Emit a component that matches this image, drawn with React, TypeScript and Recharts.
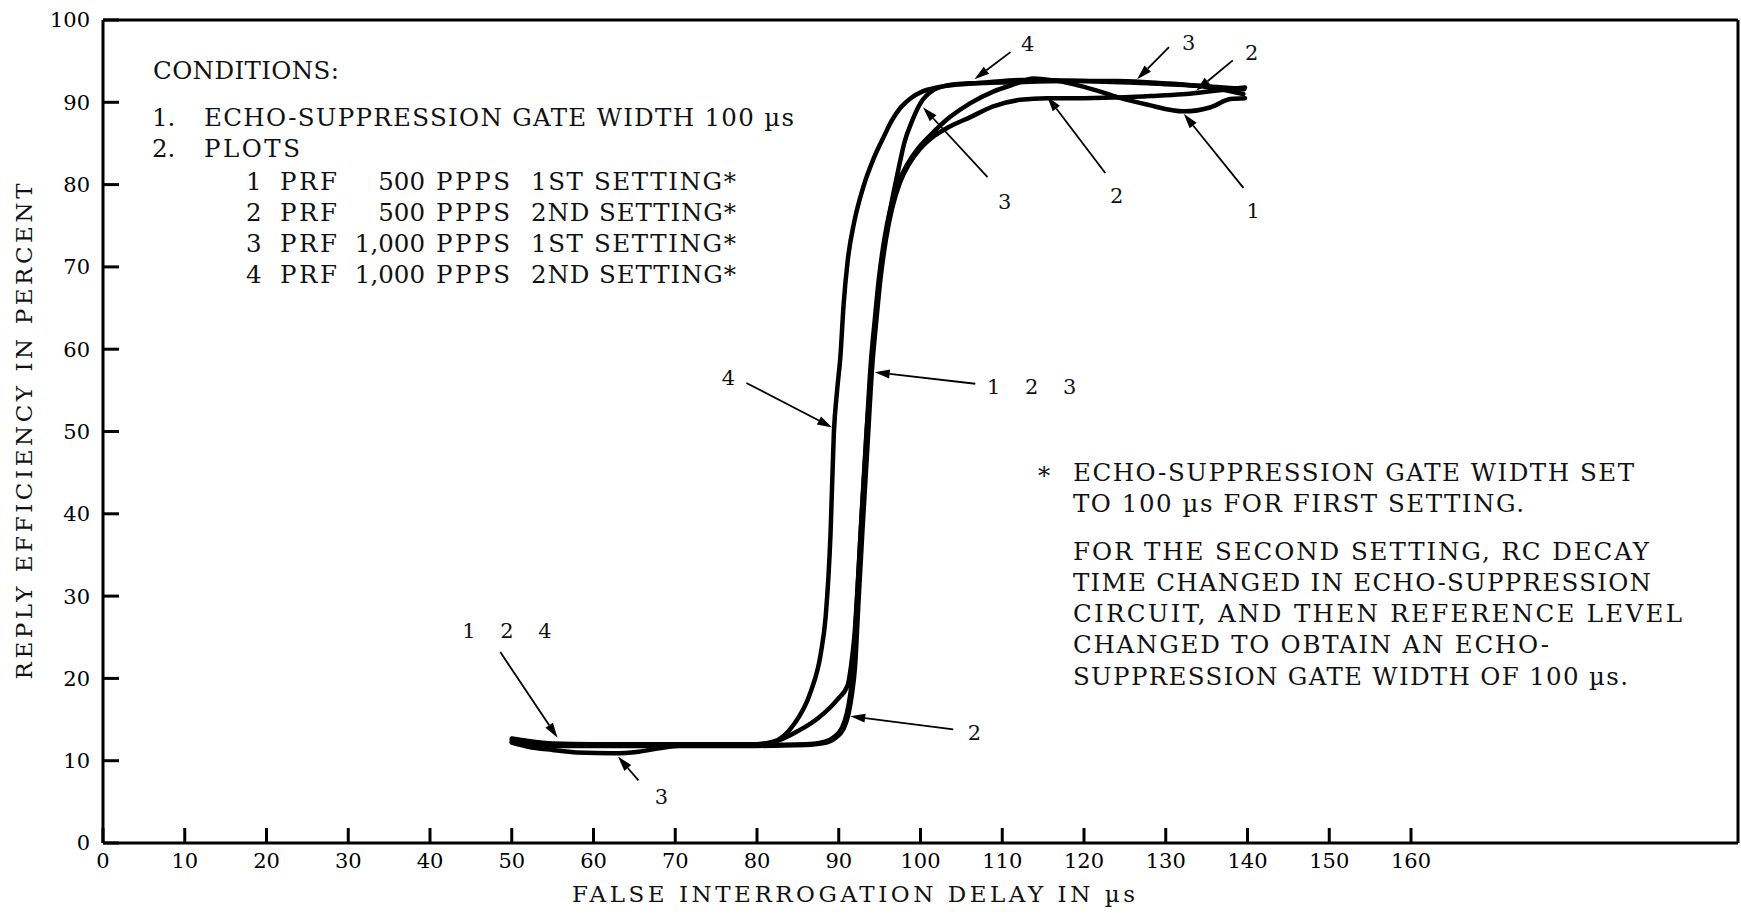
import React from 'react';
import { LineChart, Line, XAxis, YAxis, ReferenceLine, ReferenceDot, Label } from 'recharts';

const FONT = '"DejaVu Serif", serif';
const INK = '#000';

const X_TICKS = [0, 10, 20, 30, 40, 50, 60, 70, 80, 90, 100, 110, 120, 130, 140, 150, 160];
const Y_TICKS = [0, 10, 20, 30, 40, 50, 60, 70, 80, 90, 100];

// plot 1: PRF 500 PPPS, 1st setting
const delay1 = [50, 52, 55, 60, 70, 80, 86, 87.8, 89.3, 90.4, 91.0, 91.4, 91.8, 92.2, 92.7, 93.3, 93.9, 94.4, 94.9, 95.6, 96.3, 97.3, 98.4, 99.7, 101.2, 103.6, 106.1, 108.9, 111.5, 113.8, 116.7, 119.5, 122.0, 124.5, 127.8, 132.2, 135.5, 137.9, 139.7];
const eff1 = [12.5, 12.2, 12.0, 11.9, 11.9, 11.9, 12.0, 12.2, 12.8, 14.0, 15.8, 18.0, 21.5, 29.0, 38.0, 48.0, 58.0, 63.5, 68.5, 73.5, 77.0, 80.3, 82.5, 84.4, 86.0, 88.2, 89.9, 91.3, 92.2, 92.9, 92.6, 92.0, 91.3, 90.5, 89.7, 88.9, 89.4, 90.4, 90.5];

// plot 2: PRF 500 PPPS, 2nd setting
const delay2 = [50, 52, 55, 60, 70, 80, 86, 88.0, 89.5, 90.6, 91.2, 91.6, 92.0, 92.4, 92.9, 93.5, 94.1, 94.6, 95.1, 95.8, 96.5, 97.5, 98.6, 99.9, 101.4, 103.3, 106.1, 108.9, 112.2, 115.5, 120, 125, 129, 132.5, 136, 139.7];
const eff2 = [12.3, 12.0, 11.8, 11.8, 11.8, 11.8, 11.9, 12.1, 12.7, 13.9, 15.7, 18.0, 21.5, 29.0, 38.0, 48.0, 58.0, 63.5, 68.5, 73.5, 77.0, 80.3, 82.5, 84.3, 85.7, 86.9, 88.2, 89.5, 90.3, 90.5, 90.5, 90.6, 90.8, 91.0, 91.4, 91.8];

// plot 3: PRF 1,000 PPPS, 1st setting
const delay3 = [50, 52, 55, 58, 62.5, 65.5, 68, 70, 75, 80, 82.5, 85, 87.5, 89.8, 91.1, 91.5, 91.9, 92.3, 92.8, 93.4, 94.0, 94.5, 95.0, 95.7, 96.4, 96.9, 97.5, 98.0, 99.0, 100.0, 101.6, 103, 106, 110, 118, 124, 128.2, 134, 139.5];
const eff3 = [12.2, 11.7, 11.3, 11.0, 10.9, 11.1, 11.5, 11.8, 12.0, 12.0, 12.4, 13.6, 15.2, 17.4, 19.2, 21.5, 25, 31, 40, 50, 58, 63.5, 68.5, 73.5, 77.5, 80, 82.8, 85, 87.8, 89.9, 91.5, 92, 92.3, 92.4, 92.6, 92.6, 92.4, 92.0, 91.0];

// plot 4: PRF 1,000 PPPS, 2nd setting
const delay4 = [50, 52, 55, 60, 70, 80, 82, 84.5, 86.5, 87.8, 88.4, 89.0, 89.4, 89.8, 90.2, 90.6, 91.1, 91.9, 93.0, 94.2, 95.5, 96.5, 97.6, 98.8, 100.2, 102.0, 104, 108, 112.2, 120, 128, 134, 139.6];
const eff4 = [12.7, 12.4, 12.1, 12.0, 12.0, 12.0, 12.3, 14.4, 18.2, 23.0, 27.5, 37.7, 49.8, 55.0, 59.1, 65.5, 70.8, 75.5, 79.7, 83.0, 85.8, 87.8, 89.4, 90.5, 91.3, 91.8, 92.1, 92.4, 92.7, 92.6, 92.3, 92.0, 91.6];

// callouts: text, where the text sits, arrow tail, arrow head (delay µs, percent)
const CALLOUTS = [
  { text: '4', at: [113.1, 97.2], from: [111.0, 96.1], to: [106.6, 92.8] },
  { text: '3', at: [132.8, 97.3], from: [130.4, 96.7], to: [126.5, 92.8] },
  { text: '2', at: [140.5, 96.0], from: [138.2, 95.1], to: [133.7, 91.4] },
  { text: '3', at: [110.3, 78.0], from: [108.2, 80.9], to: [100.3, 89.4] },
  { text: '2', at: [124.0, 78.7], from: [122.6, 81.4], to: [115.5, 90.7] },
  { text: '1', at: [140.7, 76.8], from: [139.5, 79.6], to: [132.2, 88.6] },
  { text: '4', at: [76.5, 56.6], from: [78.7, 55.9], to: [89.2, 50.5] },
  { text: '1 2 3', at: [113.6, 55.5], from: [106.7, 55.8], to: [94.4, 57.2] },
  { text: '1 2 4', at: [49.4, 25.8], from: [48.6, 23.2], to: [55.6, 12.8] },
  { text: '3', at: [68.3, 5.6], from: [65.5, 7.6], to: [63.0, 10.5] },
  { text: '2', at: [106.6, 13.4], from: [104.0, 13.8], to: [91.4, 15.4] },
];

const zip = (xs: number[], ys: number[]) => xs.map((x, i) => ({ x, y: ys[i] }));
const SERIES = [zip(delay1, eff1), zip(delay2, eff2), zip(delay3, eff3), zip(delay4, eff4)];

// text blocks drawn over the plot (page px, baseline y, fitted length)
const CONDITIONS = [
  { t: 'CONDITIONS:', x: 153, y: 79, len: 186 },
  { t: '1.', x: 152, y: 126 },
  { t: 'ECHO-SUPPRESSION GATE WIDTH 100 µs', x: 204, y: 126, len: 590 },
  { t: '2.', x: 152, y: 157 },
  { t: 'PLOTS', x: 204, y: 157, len: 96 },
];
const PLOT_ROWS = [
  ['1', '500', '1ST SETTING*'],
  ['2', '500', '2ND SETTING*'],
  ['3', '1,000', '1ST SETTING*'],
  ['4', '1,000', '2ND SETTING*'],
];
const FOOTNOTE = [
  { t: 'ECHO-SUPPRESSION GATE WIDTH SET', y: 481, len: 561 },
  { t: 'TO 100 µs FOR FIRST SETTING.', y: 512, len: 451 },
  { t: 'FOR THE SECOND SETTING, RC DECAY', y: 560, len: 576 },
  { t: 'TIME CHANGED IN ECHO-SUPPRESSION', y: 591, len: 578 },
  { t: 'CIRCUIT, AND THEN REFERENCE LEVEL', y: 622, len: 609 },
  { t: 'CHANGED TO OBTAIN AN ECHO-', y: 653, len: 476 },
  { t: 'SUPPRESSION GATE WIDTH OF 100 µs.', y: 685, len: 555 },
];

const Arrow = (p: any) => {
  const { x1, y1, x2, y2 } = p;
  const a = Math.atan2(y2 - y1, x2 - x1);
  const L = 15;
  const W = 4.5;
  const bx = x2 - L * Math.cos(a);
  const by = y2 - L * Math.sin(a);
  const pts = `${x2},${y2} ${bx - W * Math.sin(a)},${by + W * Math.cos(a)} ${bx + W * Math.sin(a)},${by - W * Math.cos(a)}`;
  return (
    <g>
      <line x1={x1} y1={y1} x2={bx} y2={by} stroke={INK} strokeWidth={1.8} />
      <polygon points={pts} fill={INK} />
    </g>
  );
};

const txt = { fontFamily: FONT, fontSize: 24.5, fill: '#111' } as const;
const tickStyle = { fill: INK, fontSize: 21, fontFamily: FONT };

export default function App() {
  return (
    <div style={{ position: 'absolute', left: 0, top: 0, width: 1741, height: 914, background: '#fff' }}>
      <LineChart width={1741} height={914} margin={{ top: 20, right: 3, bottom: 0, left: 0 }}>
        <XAxis
          type="number"
          dataKey="x"
          domain={[0, 200]}
          ticks={X_TICKS}
          interval={0}
          height={71}
          tickSize={-15}
          tickMargin={25}
          axisLine={{ stroke: INK, strokeWidth: 3 }}
          tickLine={{ stroke: INK, strokeWidth: 3 }}
          tick={tickStyle}
        >
          <Label
            content={(p: any) => (
              <text x={p.viewBox.x + 469} y={p.viewBox.y + 59} textLength={563} lengthAdjust="spacing" style={{ ...txt, fontSize: 23 }}>
                FALSE INTERROGATION DELAY IN µs
              </text>
            )}
          />
        </XAxis>
        <YAxis
          type="number"
          domain={[0, 100]}
          ticks={Y_TICKS}
          interval={0}
          width={103}
          tickSize={-16}
          tickMargin={29}
          axisLine={{ stroke: INK, strokeWidth: 3 }}
          tickLine={{ stroke: INK, strokeWidth: 3 }}
          tick={tickStyle}
        >
          <Label
            content={(p: any) => {
              const cx = p.viewBox.x + 24;
              const cy = p.viewBox.y + p.viewBox.height / 2;
              return (
                <text x={cx} y={cy} dy="0.36em" textAnchor="middle" transform={`rotate(-90 ${cx} ${cy})`} textLength={496} lengthAdjust="spacing" style={{ ...txt, fontSize: 23 }}>
                  REPLY EFFICIENCY IN PERCENT
                </text>
              );
            }}
          />
        </YAxis>
        <ReferenceLine y={100} stroke={INK} strokeWidth={3} />
        <ReferenceLine x={200} stroke={INK} strokeWidth={3} />
        {SERIES.map((d, i) => (
          <Line
            key={i}
            data={d}
            dataKey="y"
            type="monotone"
            stroke={INK}
            strokeWidth={4.5}
            strokeLinecap="round"
            strokeLinejoin="round"
            dot={false}
            activeDot={false}
            isAnimationActive={false}
          />
        ))}
        {CALLOUTS.map((c, i) => (
          <ReferenceLine
            key={`a${i}`}
            segment={[{ x: c.from[0], y: c.from[1] }, { x: c.to[0], y: c.to[1] }]}
            shape={(p: any) => <Arrow {...p} />}
          />
        ))}
        {CALLOUTS.map((c, i) => (
          <ReferenceDot
            key={`t${i}`}
            x={c.at[0]}
            y={c.at[1]}
            r={0}
            shape={(p: any) => (
              <text x={p.cx} y={p.cy} dy="0.36em" textAnchor="middle" wordSpacing={18} style={{ fontFamily: FONT, fontSize: 21, fill: '#111' }}>
                {c.text}
              </text>
            )}
          />
        ))}
      </LineChart>
      <svg width={1741} height={914} style={{ position: 'absolute', left: 0, top: 0, pointerEvents: 'none' }}>
        {CONDITIONS.map((c, i) => (
          <text key={`c${i}`} x={c.x} y={c.y} textLength={c.len} lengthAdjust={c.len ? 'spacing' : undefined} style={txt}>
            {c.t}
          </text>
        ))}
        {PLOT_ROWS.map((r, i) => {
          const y = 189.5 + i * 31;
          return (
            <g key={`r${i}`} style={txt}>
              <text x={246} y={y}>{r[0]}</text>
              <text x={280} y={y} textLength={57} lengthAdjust="spacing">PRF</text>
              <text x={425} y={y} textAnchor="end">{r[1]}</text>
              <text x={436} y={y} textLength={74} lengthAdjust="spacing">PPPS</text>
              <text x={531} y={y} textLength={205} lengthAdjust="spacing">{r[2]}</text>
            </g>
          );
        })}
        <text x={1038} y={484} style={txt}>*</text>
        {FOOTNOTE.map((f, i) => (
          <text key={`f${i}`} x={1073} y={f.y} textLength={f.len} lengthAdjust="spacing" style={txt}>
            {f.t}
          </text>
        ))}
      </svg>
    </div>
  );
}
